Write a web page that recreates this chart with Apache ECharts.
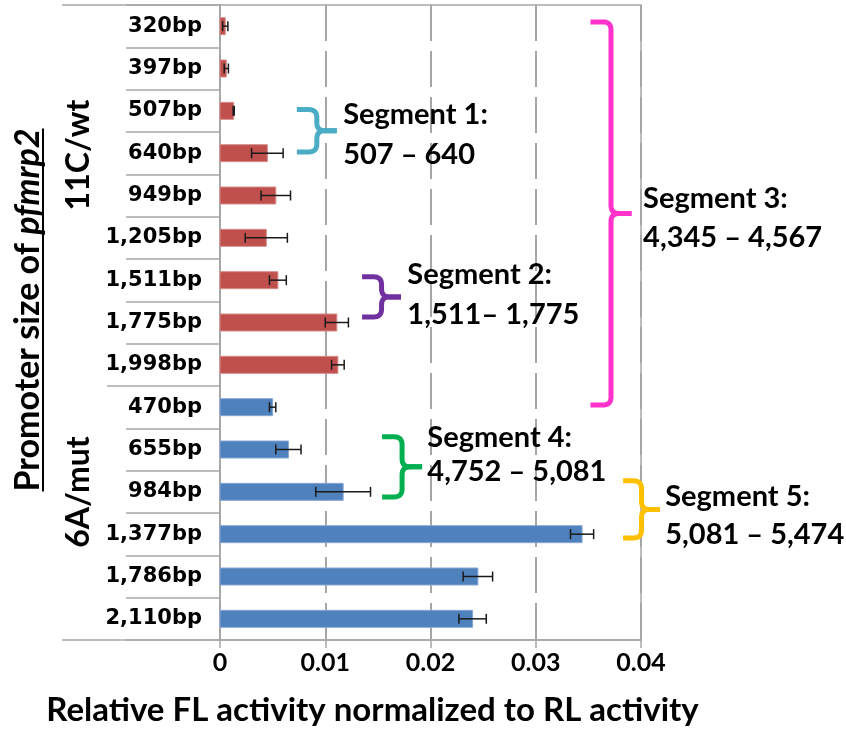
<!DOCTYPE html>
<html>
<head>
<meta charset="utf-8">
<script src="https://cdn.jsdelivr.net/npm/echarts@6/dist/echarts.min.js"></script>
<style>
html, body { margin: 0; padding: 0; background: #fff; }
#chart { width: 846px; height: 754px; }
</style>
</head>
<body>
<div id="chart"></div>
<script>
// promoter fragments, top to bottom
var categories = ['320bp', '397bp', '507bp', '640bp', '949bp', '1,205bp', '1,511bp', '1,775bp', '1,998bp',
	'470bp', '655bp', '984bp', '1,377bp', '1,786bp', '2,110bp'];

// 11C/wt (red) and 6A/mut (blue) means and error bar half widths
var wtValues = [0.0005, 0.0006, 0.0013, 0.0045, 0.0053, 0.0044, 0.0055, 0.0111, 0.0112];
var wtErrors = [0.00025, 0.0002, 0.00005, 0.0015, 0.0014, 0.0020, 0.0008, 0.0011, 0.0006];
var mutValues = [0.0050, 0.0065, 0.0117, 0.0344, 0.0245, 0.0240];
var mutErrors = [0.0003, 0.0012, 0.0026, 0.0011, 0.0014, 0.0013];

var xTickLabels = ['0', '0.01', '0.02', '0.03', '0.04'];

// segment annotations: label, range, first and last row they bracket
var segmentNames = ['Segment 1:', 'Segment 2:', 'Segment 3:', 'Segment 4:', 'Segment 5:'];
var segmentRanges = ['507 \u2013 640', '1,511\u2013 1,775', '4,345 \u2013 4,567', '4,752 \u2013 5,081', '5,081 \u2013 5,474'];
var segmentRows = [[2, 3], [6, 7], [0, 9], [10, 11], [11, 12]];

// where the braces and their labels sit (x in data units, y in row units)
var braceLayout = [
	{ color: '#4BACC6', x0: 0.0073, tip: 0.0111, r0: 1.97, r1: 2.97, tx: 0.0117, tr: 2.57, lh: 40 },
	{ color: '#7030A0', x0: 0.0135, tip: 0.0172, r0: 5.92, r1: 6.87, tx: 0.0178, tr: 6.35, lh: 40 },
	{ color: '#FF33CC', x0: 0.0352, tip: 0.0391, r0: -0.1, r1: 8.95, tx: 0.0402, tr: 4.53, lh: 39 },
	{ color: '#00B050', x0: 0.0154, tip: 0.0192, r0: 9.7, r1: 11.12, tx: 0.0197, tr: 10.13, lh: 34 },
	{ color: '#FFC000', x0: 0.0383, tip: 0.0418, r0: 10.74, r1: 12.09, tx: 0.0423, tr: 11.57, lh: 38 }
];

var RED = '#C0504D', BLUE = '#4F81BD', GRAY = '#A6A6A6';
var LABEL_FONT = 'DejaVu Sans';
var NOTE_FONT = 'Lato';

var barData = [], errData = [];
for (var i = 0; i < wtValues.length; i++) {
	barData.push({ value: wtValues[i], itemStyle: { color: RED, borderColor: '#D58B89' } });
	errData.push([i, wtValues[i] - wtErrors[i], wtValues[i] + wtErrors[i]]);
}
for (var j = 0; j < mutValues.length; j++) {
	var k = wtValues.length + j;
	barData.push({ value: mutValues[j], itemStyle: { color: BLUE, borderColor: '#86A6D4' } });
	errData.push([k, mutValues[j] - mutErrors[j], mutValues[j] + mutErrors[j]]);
}

var chart = echarts.init(document.getElementById('chart'), null, { renderer: 'canvas' });

chart.setOption({
	animation: false,
	grid: { left: 220, right: 205, top: 5, bottom: 114, show: true, borderColor: GRAY, borderWidth: 1.5 },
	xAxis: {
		type: 'value', min: 0, max: 0.04, interval: 0.01,
		axisLine: { show: true, lineStyle: { color: GRAY, width: 1.5 } },
		axisTick: { show: true, length: 8, lineStyle: { color: GRAY, width: 1.5 } },
		axisLabel: {
			margin: 10, color: '#000', fontWeight: 'bold', fontSize: 25, fontFamily: NOTE_FONT,
			formatter: function(v) { return xTickLabels[Math.round(v / 0.01)]; }
		},
		splitLine: { show: true, lineStyle: { color: GRAY, width: 2, type: [36, 10] } },
		name: 'Relative FL activity normalized to RL activity',
		nameLocation: 'middle', nameGap: 54,
		nameTextStyle: { color: '#000', fontWeight: 'bold', fontSize: 33, fontFamily: NOTE_FONT, padding: [0, 116, 0, 0] }
	},
	yAxis: {
		type: 'category', inverse: true, data: categories,
		axisLine: { show: true, lineStyle: { color: GRAY, width: 1.5 } },
		axisTick: { show: true, length: 94, interval: 0, lineStyle: { color: GRAY, width: 1.5 } },
		axisLabel: { margin: 18, color: '#000', fontWeight: 'bold', fontSize: 21, fontFamily: LABEL_FONT, interval: 0 },
		splitLine: { show: false }
	},
	series: [
		{ type: 'bar', data: barData, barWidth: 17, z: 2 },
		{
			type: 'custom', z: 3,
			encode: { x: [1, 2], y: 0 },
			data: errData,
			renderItem: function(params, api) {
				var idx = api.value(0);
				var a = api.coord([api.value(1), idx]);
				var b = api.coord([api.value(2), idx]);
				var s = { stroke: '#1a1a1a', lineWidth: 1.5 };
				return { type: 'group', children: [
					{ type: 'line', shape: { x1: a[0], y1: a[1], x2: b[0], y2: b[1] }, style: s },
					{ type: 'line', shape: { x1: a[0], y1: a[1] - 5, x2: a[0], y2: a[1] + 5 }, style: s },
					{ type: 'line', shape: { x1: b[0], y1: b[1] - 5, x2: b[0], y2: b[1] + 5 }, style: s }
				]};
			}
		}
	]
});

// helpers to go from data / row units to pixels
function px(v) { return chart.convertToPixel({ xAxisIndex: 0 }, v); }
function py(r) {
	var a = chart.convertToPixel({ yAxisIndex: 0 }, 0);
	var b = chart.convertToPixel({ yAxisIndex: 0 }, 1);
	return a + (b - a) * r;
}

function quad(pts, p0, c, p1) {
	for (var t = 1; t <= 8; t++) {
		var u = t / 8;
		pts.push([
			(1 - u) * (1 - u) * p0[0] + 2 * u * (1 - u) * c[0] + u * u * p1[0],
			(1 - u) * (1 - u) * p0[1] + 2 * u * (1 - u) * c[1] + u * u * p1[1]
		]);
	}
}

// a '}' shaped brace as a list of points
function bracePoints(x0, xt, y0, y1) {
	var xs = x0 + (xt - x0) * 0.5;
	var ym = (y0 + y1) / 2;
	var r = Math.min(8, (xs - x0) * 0.8);
	var pts = [[x0, y0], [xs - r, y0]];
	quad(pts, [xs - r, y0], [xs, y0], [xs, y0 + r]);
	pts.push([xs, ym - r]);
	quad(pts, [xs, ym - r], [xs, ym], [xs + r, ym]);
	pts.push([xt, ym]);
	var pts2 = [[xt, ym], [xs + r, ym]];
	quad(pts2, [xs + r, ym], [xs, ym], [xs, ym + r]);
	pts2.push([xs, y1 - r]);
	quad(pts2, [xs, y1 - r], [xs, y1], [xs - r, y1]);
	pts2.push([x0, y1]);
	return [pts, pts2];
}

var measure = document.createElement('canvas').getContext('2d');
function textWidth(str, font) { measure.font = font; return measure.measureText(str).width; }

var graphics = [];
var gl = chart.convertToPixel({ xAxisIndex: 0 }, 0);
var lineStyle = { stroke: GRAY, lineWidth: 1.5 };
// table-like lines to the left of the plot
graphics.push({ type: 'line', shape: { x1: 62, y1: py(-0.5), x2: gl, y2: py(-0.5) }, style: lineStyle });
graphics.push({ type: 'line', shape: { x1: 62, y1: py(categories.length - 0.5), x2: gl, y2: py(categories.length - 0.5) }, style: lineStyle });
graphics.push({ type: 'line', shape: { x1: 107, y1: py(wtValues.length - 0.5), x2: gl - 94, y2: py(wtValues.length - 0.5) }, style: lineStyle });

// group labels
var groupFont = 'bold 32px ' + NOTE_FONT;
graphics.push({ type: 'text', x: 79, y: 155, rotation: Math.PI / 2,
	style: { text: '11C/wt', font: groupFont, fill: '#000', align: 'center', verticalAlign: 'middle' } });
graphics.push({ type: 'text', x: 79, y: 492, rotation: Math.PI / 2,
	style: { text: '6A/mut', font: groupFont, fill: '#000', align: 'center', verticalAlign: 'middle' } });

// axis title with italic gene name, underlined
var tFont = 'bold 34px ' + NOTE_FONT;
var tItal = 'italic bold 34px ' + NOTE_FONT;
var tw = textWidth('Promoter size of ', tFont) + textWidth('pfmrp2', tItal);
graphics.push({ type: 'group', x: 28, y: 310, rotation: Math.PI / 2, children: [
	{ type: 'text', x: -tw / 2, y: 0, style: {
		text: '{a|Promoter size of }{b|pfmrp2}', align: 'left', verticalAlign: 'middle',
		rich: {
			a: { font: tFont, fill: '#000' },
			b: { font: tItal, fill: '#000' }
		}
	}},
	{ type: 'line', shape: { x1: -tw / 2, y1: 15, x2: tw / 2, y2: 15 }, style: { stroke: '#000', lineWidth: 2 } }
]});

// segment braces and labels
for (var s = 0; s < segmentNames.length; s++) {
	var L = braceLayout[s];
	var parts = bracePoints(px(L.x0), px(L.tip), py(L.r0), py(L.r1));
	for (var p = 0; p < parts.length; p++) {
		graphics.push({ type: 'polyline', shape: { points: parts[p] }, z: 50,
			style: { stroke: L.color, lineWidth: 5, fill: null, lineJoin: 'round', lineCap: 'butt' } });
	}
	graphics.push({ type: 'text', x: px(L.tx), y: py(L.tr), z: 60, style: {
		text: segmentNames[s] + '\n' + segmentRanges[s], font: 'bold 29px ' + NOTE_FONT,
		fill: '#000', align: 'left', verticalAlign: 'middle', lineHeight: L.lh
	}});
}

chart.setOption({ graphic: graphics });
</script>
</body>
</html>
